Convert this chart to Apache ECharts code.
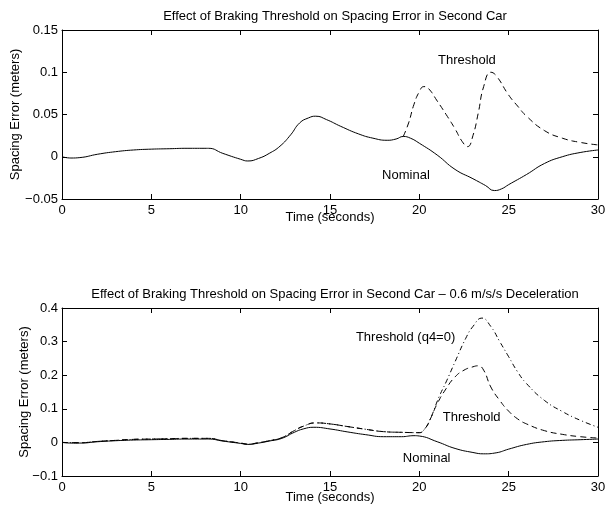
<!DOCTYPE html>
<html>
<head>
<meta charset="utf-8">
<script src="https://cdn.jsdelivr.net/npm/echarts@6/dist/echarts.min.js"></script>
<style>
html,body{margin:0;padding:0;background:#fff;}
#c{width:608px;height:509px;}
</style>
</head>
<body>
<div id="c"></div>
<script>
// ---------- Data (top panel) ----------
const topTitle = 'Effect of Braking Threshold on Spacing Error in Second Car';
const botTitle = 'Effect of Braking Threshold on Spacing Error in Second Car \u2013 0.6 m/s/s Deceleration';
const xName = 'Time (seconds)';
const yName = 'Spacing Error (meters)';
const xTicks = [0, 5, 10, 15, 20, 25, 30];
const topYTicks = [-0.05, 0, 0.05, 0.1, 0.15];
const botYTicks = [-0.1, 0, 0.1, 0.2, 0.3, 0.4];

const topNomT = [0, 0.5, 1, 2, 3, 4, 5, 6, 7, 8, 8.2, 9, 10, 10.4, 11, 11.6, 12.2, 12.8, 13.3, 13.8, 14.2, 14.8, 15.6, 16.6, 17.4, 18.2, 18.7, 19.1, 19.5, 20, 21, 22, 23, 23.7, 24.2, 24.6, 25, 26, 27, 28, 29, 30];
const topNomV = [0, -0.0015, -0.001, 0.003, 0.006, 0.008, 0.009, 0.0095, 0.010, 0.010, 0.010, 0.004, -0.003, -0.005, -0.002, 0.004, 0.0125, 0.026, 0.040, 0.046, 0.048, 0.044, 0.036, 0.027, 0.022, 0.0195, 0.021, 0.024, 0.022, 0.016, 0.002, -0.015, -0.026, -0.034, -0.040, -0.038, -0.033, -0.021, -0.008, 0.000, 0.005, 0.008];

const topThrT = [19.1, 19.4, 19.7, 20, 20.25, 20.5, 21, 21.5, 22, 22.4, 22.7, 23, 23.3, 23.6, 24, 24.3, 25, 25.5, 26, 27, 28, 29, 30];
const topThrV = [0.024, 0.040, 0.062, 0.077, 0.083, 0.081, 0.066, 0.050, 0.033, 0.018, 0.012, 0.025, 0.052, 0.083, 0.100, 0.096, 0.073, 0.060, 0.048, 0.031, 0.022, 0.017, 0.014];

// ---------- Data (bottom panel) ----------
const botNomT = [0, 0.5, 1, 2, 3, 4, 5, 6, 7, 8, 8.2, 9, 10, 10.4, 11, 11.6, 12.3, 13, 13.5, 14.1, 15, 16, 17, 18, 19, 19.7, 20, 21, 22, 23, 23.6, 24.3, 25, 26, 27, 28, 29, 30];
const botNomV = [0, -0.002, -0.002, 0.002, 0.005, 0.007, 0.008, 0.009, 0.010, 0.010, 0.010, 0.004, -0.003, -0.006, -0.002, 0.004, 0.012, 0.030, 0.040, 0.045, 0.040, 0.031, 0.023, 0.017, 0.017, 0.020, 0.019, 0.002, -0.018, -0.030, -0.034, -0.031, -0.020, -0.006, 0.002, 0.006, 0.008, 0.010];

const botThrT = [0, 1, 2, 3, 4, 5, 6, 7, 8, 8.2, 9, 10, 10.4, 11, 11.6, 12.3, 13, 13.5, 14.2, 15, 16, 17, 18, 19, 20, 20.3, 20.6, 21, 21.5, 22, 22.5, 23, 23.3, 23.6, 24, 24.5, 25, 25.5, 26, 27, 28, 29, 30];
const botThrV = [0, -0.001, 0.003, 0.006, 0.009, 0.010, 0.011, 0.012, 0.012, 0.012, 0.005, -0.002, -0.005, -0.001, 0.005, 0.014, 0.035, 0.048, 0.058, 0.055, 0.047, 0.039, 0.032, 0.030, 0.029, 0.040, 0.068, 0.115, 0.160, 0.195, 0.215, 0.225, 0.228, 0.215, 0.165, 0.125, 0.093, 0.070, 0.055, 0.035, 0.024, 0.017, 0.013];

const botQ4T = [0, 1, 2, 3, 4, 5, 6, 7, 8, 8.2, 9, 10, 10.4, 11, 11.6, 12.3, 13, 13.5, 14.2, 15, 16, 17, 18, 19, 20, 20.3, 20.6, 21.1, 21.5, 22, 22.6, 23, 23.5, 24, 24.5, 25, 25.5, 26, 27, 28, 29, 30];
const botQ4V = [0, -0.001, 0.003, 0.006, 0.009, 0.010, 0.011, 0.012, 0.012, 0.012, 0.005, -0.002, -0.005, -0.001, 0.005, 0.014, 0.035, 0.048, 0.058, 0.055, 0.047, 0.039, 0.032, 0.030, 0.029, 0.040, 0.068, 0.135, 0.180, 0.240, 0.310, 0.345, 0.370, 0.345, 0.300, 0.255, 0.210, 0.175, 0.125, 0.092, 0.066, 0.045];

// Annotation text positions (data coordinates)
const topLabels = [{text: 'Threshold', t: 22.66, v: 0.1136}, {text: 'Nominal', t: 19.25, v: -0.022}];
const botLabels = [{text: 'Threshold (q4=0)', t: 19.23, v: 0.313}, {text: 'Threshold', t: 22.93, v: 0.073}, {text: 'Nominal', t: 20.41, v: -0.047}];

// ---------- Build ----------
const FONT = 'Liberation Sans, Arial, Helvetica, sans-serif';
const FS = 13;
function pairs(t, v) { return t.map((x, i) => [x, v[i]]); }
function fmt(v) {
  const s = String(Number(v.toFixed(3)));
  return s.replace('-', '\u2212');
}
function lbls(arr) {
  return arr.map(a => ({
    coord: [a.t, a.v], value: a.text,
    label: {show: true, formatter: a.text, position: 'inside', color: '#000', fontSize: FS, fontFamily: FONT}
  }));
}
function xAxes(grid, nameGap) {
  const ticks = xTicks;
  return [
    {gridIndex: grid, type: 'value', min: ticks[0], max: ticks[ticks.length - 1], interval: ticks[1] - ticks[0],
     name: xName, nameLocation: 'middle', nameGap: nameGap, nameMoveOverlap: false,
     nameTextStyle: {color: '#000', fontSize: FS, fontFamily: FONT},
     axisLine: {show: true, onZero: false, lineStyle: {color: '#000', width: 1}},
     axisTick: {show: true, inside: true, length: 5, lineStyle: {color: '#000'}},
     axisLabel: {color: '#000', fontSize: FS, fontFamily: FONT, margin: 5},
     splitLine: {show: false}},
    {gridIndex: grid, type: 'value', position: 'top', min: ticks[0], max: ticks[ticks.length - 1], interval: ticks[1] - ticks[0],
     axisLine: {show: true, onZero: false, lineStyle: {color: '#000', width: 1}},
     axisTick: {show: true, inside: true, length: 5, lineStyle: {color: '#000'}},
     axisLabel: {show: false}, splitLine: {show: false}}
  ];
}
function yAxes(grid, ticks, nameGap) {
  const mn = ticks[0], mx = ticks[ticks.length - 1], iv = ticks[1] - ticks[0];
  return [
    {gridIndex: grid, type: 'value', min: mn, max: mx, interval: iv,
     name: yName, nameLocation: 'middle', nameGap: nameGap, nameMoveOverlap: false,
     nameTextStyle: {color: '#000', fontSize: FS, fontFamily: FONT},
     axisLine: {show: true, onZero: false, lineStyle: {color: '#000', width: 1}},
     axisTick: {show: true, inside: true, length: 5, lineStyle: {color: '#000'}},
     axisLabel: {color: '#000', fontSize: FS, fontFamily: FONT, margin: 4, formatter: fmt},
     splitLine: {show: false}},
    {gridIndex: grid, type: 'value', position: 'right', min: mn, max: mx, interval: iv,
     axisLine: {show: true, onZero: false, lineStyle: {color: '#000', width: 1}},
     axisTick: {show: true, inside: true, length: 5, lineStyle: {color: '#000'}},
     axisLabel: {show: false}, splitLine: {show: false}}
  ];
}
function line(name, xi, yi, t, v, type, marks) {
  const s = {
    name: name, type: 'line', xAxisIndex: xi, yAxisIndex: yi, data: pairs(t, v),
    showSymbol: false, smooth: 0.5, animation: false,
    lineStyle: {color: '#000', width: 1, type: type}, z: 3
  };
  if (marks) {
    s.markPoint = {symbol: 'circle', symbolSize: 1, itemStyle: {color: 'rgba(0,0,0,0)'}, animation: false, data: lbls(marks)};
  }
  return s;
}

const chart = echarts.init(document.getElementById('c'), null, {renderer: 'canvas'});
chart.setOption({
  backgroundColor: '#fff',
  animation: false,
  title: [
    {text: topTitle, left: 330, top: 5, textAlign: 'center', textStyle: {color: '#000', fontSize: FS, fontWeight: 'normal', fontFamily: FONT}},
    {text: botTitle, left: 330, top: 283, textAlign: 'center', textStyle: {color: '#000', fontSize: FS, fontWeight: 'normal', fontFamily: FONT}}
  ],
  grid: [
    {left: 62, right: 10, top: 30, height: 169, containLabel: false, outerBoundsMode: 'none'},
    {left: 62, right: 10, top: 308, height: 168, containLabel: false, outerBoundsMode: 'none'}
  ],
  xAxis: [...xAxes(0, 12), ...xAxes(1, 15)],
  yAxis: [...yAxes(0, topYTicks, 40), ...yAxes(1, botYTicks, 31)],
  series: [
    line('Nominal', 0, 0, topNomT, topNomV, 'solid', topLabels),
    line('Threshold', 0, 0, topThrT, topThrV, [6, 4]),
    line('Nominal', 2, 2, botNomT, botNomV, 'solid', botLabels),
    line('Threshold', 2, 2, botThrT, botThrV, [6, 4]),
    line('Threshold (q4=0)', 2, 2, botQ4T, botQ4V, [5, 3, 1, 3])
  ]
});
</script>
</body>
</html>
